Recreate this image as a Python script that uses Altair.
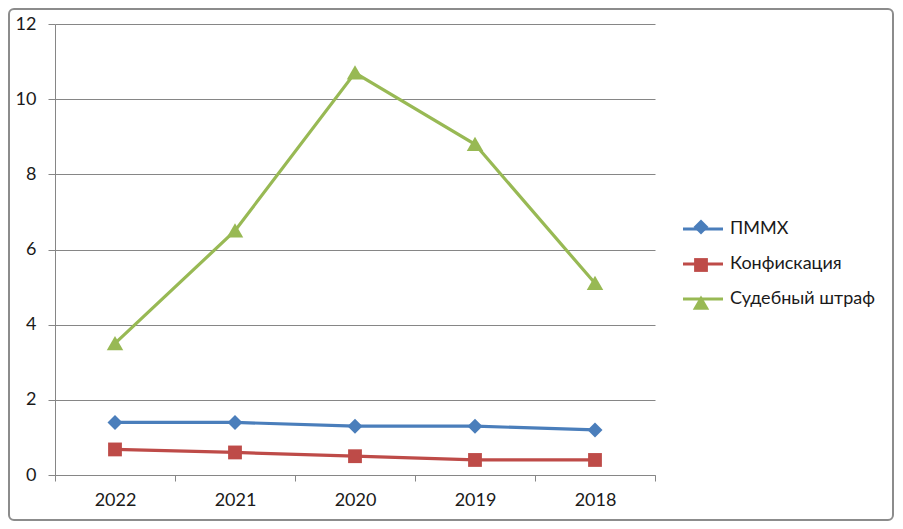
import altair as alt
import pandas as pd

years = ["2022", "2021", "2020", "2019", "2018"]
series_names = ["ПММХ", "Конфискация", "Судебный штраф"]
pmmh = [1.4, 1.4, 1.3, 1.3, 1.2]
konf = [0.68, 0.6, 0.5, 0.4, 0.4]
shtraf = [3.5, 6.5, 10.7, 8.8, 5.1]
colors = ["#4A7EBB", "#BE4B48", "#98B954"]
y_ticks = [0, 2, 4, 6, 8, 10, 12]

# legend names for the line legend (trailing space keeps it a separate legend)
line_names = [s + " " for s in series_names]

rows = []
for name, lname, vals in zip(series_names, line_names, [pmmh, konf, shtraf]):
    for yr, v in zip(years, vals):
        rows.append({"year": yr, "series": name, "name": lname, "value": v})
df = pd.DataFrame(rows)

FONT = "Lato, Noto Sans, sans-serif"
TXT = "#1a1a1a"
GRID = "#868686"

marker_paths = [
    "M0,-0.5L0.5,0L0,0.5L-0.5,0Z",
    "M-0.46,-0.46H0.46V0.46H-0.46Z",
    "M0,-0.5L0.55,0.45H-0.55Z",
]
stroke_scale = alt.Scale(domain=line_names, range=colors)
fill_scale = alt.Scale(domain=series_names, range=colors)
shape_scale = alt.Scale(domain=series_names, range=marker_paths)

x_enc = alt.X(
    "year:O",
    sort=years,
    bandPosition=0.5,
    scale=alt.Scale(type="band", paddingInner=0, paddingOuter=0),
    axis=alt.Axis(
        title=None, labelAngle=0, tickBand="extent", grid=False,
        domainColor=GRID, tickColor=GRID, tickSize=6, labelPadding=10,
        labelFontSize=18, labelColor=TXT, labelFont=FONT,
    ),
)
y_enc = alt.Y(
    "value:Q",
    scale=alt.Scale(domain=[0, 12], nice=False),
    axis=alt.Axis(
        title=None, values=y_ticks, grid=True, gridColor=GRID, gridWidth=1,
        domainColor=GRID, tickColor=GRID, tickSize=7, labelPadding=12,
        labelFontSize=18, labelColor=TXT, labelFont=FONT,
    ),
)

base = alt.Chart(df)

lines = base.mark_line(strokeWidth=3.2).encode(
    x=x_enc,
    y=y_enc,
    stroke=alt.Stroke(
        "name:N",
        scale=stroke_scale,
        legend=alt.Legend(
            title=None, orient="none", legendX=626, legendY=183,
            symbolType="M-1,0H1", symbolSize=1600, symbolStrokeWidth=3.2,
            labelFontSize=18, labelFont=FONT, labelColor=TXT,
            labelOffset=5, rowPadding=4,
        ),
    ),
)

marker_legend = alt.Legend(
    title=None, orient="none", legendX=631, legendY=188,
    symbolSize=900, symbolStrokeWidth=0, symbolOpacity=1,
    labelExpr="''", labelFontSize=18, rowPadding=14,
)

points = base.mark_point(filled=True, opacity=1, size=900, strokeWidth=0).encode(
    x=x_enc,
    y=y_enc,
    fill=alt.Fill("series:N", scale=fill_scale, legend=marker_legend),
    shape=alt.Shape("series:N", scale=shape_scale, legend=marker_legend),
)

border = alt.Chart(pd.DataFrame({"b": [0]})).mark_rect(
    filled=False, stroke="#8C8C8C", strokeWidth=2, cornerRadius=5
).encode(
    x=alt.value(-46), x2=alt.value(838), y=alt.value(-15), y2=alt.value(496)
)

chart = alt.layer(border, lines, points).properties(
    width=600,
    height=451,
    autosize=alt.AutoSizeParams(type="none"),
    padding={"left": 47, "top": 16, "right": 240, "bottom": 46},
    background="white",
).configure_view(stroke=None)

chart.save("out.html", embed_options={"renderer": "svg", "actions": False})
